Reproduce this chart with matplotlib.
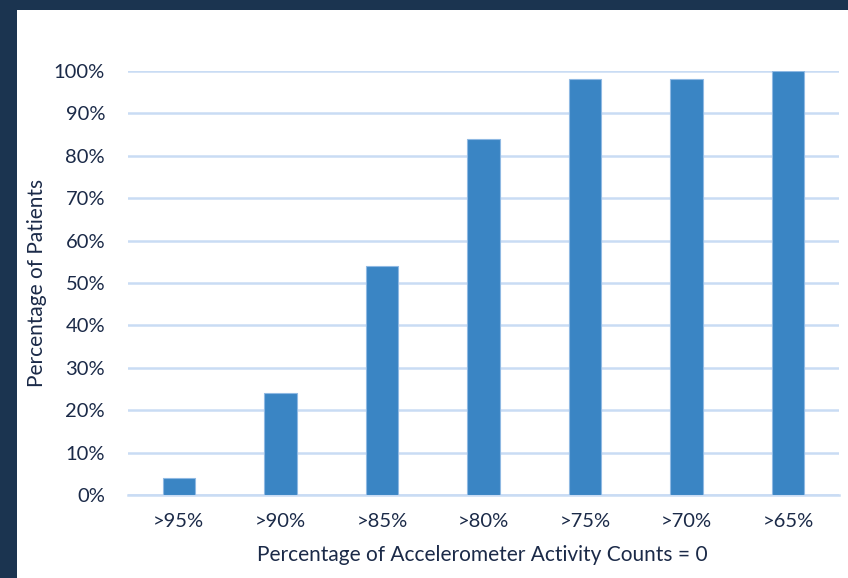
import matplotlib.pyplot as plt
from matplotlib.ticker import PercentFormatter

categories = [">95%", ">90%", ">85%", ">80%", ">75%", ">70%", ">65%"]
patients_pct = [4, 24, 54, 84, 98, 98, 100]
y_ticks = [0, 10, 20, 30, 40, 50, 60, 70, 80, 90, 100]

text_col = "#1b2a48"
grid_col = "#c9dcf4"
bar_col = "#3a85c4"

plt.rcParams['font.family'] = ['Lato', 'DejaVu Sans']

fig = plt.figure(figsize=(8.48, 5.78), dpi=100)
fig.patch.set_facecolor("#1b3450")

# white panel inside the dark frame
panel = fig.add_axes([17 / 848, 0, 1 - 17 / 848, 1 - 10 / 578])
panel.set_facecolor("white")
panel.set_xticks([])
panel.set_yticks([])
for s in panel.spines.values():
    s.set_visible(False)

ax = fig.add_axes([128 / 848, 1 - 495 / 578, 711 / 848, (495 - 71) / 578])
ax.set_facecolor("none")
x = range(len(categories))
ax.bar(x, patients_pct, width=0.32, color=bar_col, edgecolor="#8fb9e3",
       linewidth=0.8, zorder=3)

ax.set_xlim(-0.5, len(categories) - 0.5)
ax.set_ylim(0, 100)
ax.set_yticks(y_ticks)
ax.yaxis.set_major_formatter(PercentFormatter(decimals=0))
ax.set_xticks(list(x))
ax.set_xticklabels(categories)
ax.grid(axis="y", color=grid_col, linewidth=1.8, zorder=0)
ax.tick_params(length=0, labelsize=14.5, colors=text_col)
ax.tick_params(axis="x", pad=13)
ax.tick_params(axis="y", pad=16.5)
for side in ["top", "right", "left"]:
    ax.spines[side].set_visible(False)
ax.spines["bottom"].set_color(grid_col)
ax.spines["bottom"].set_linewidth(1.8)

ax.set_xlabel("Percentage of Accelerometer Activity Counts = 0", fontsize=15,
              color=text_col)
ax.set_ylabel("Percentage of Patients", fontsize=15, color=text_col)
ax.xaxis.set_label_coords(0.499, -0.142)
ax.yaxis.set_label_coords(-0.128, 0.5)
ax.xaxis.label.set_va("center")
ax.yaxis.label.set_va("center")

fig.savefig("out.png", dpi=100, facecolor=fig.get_facecolor())
